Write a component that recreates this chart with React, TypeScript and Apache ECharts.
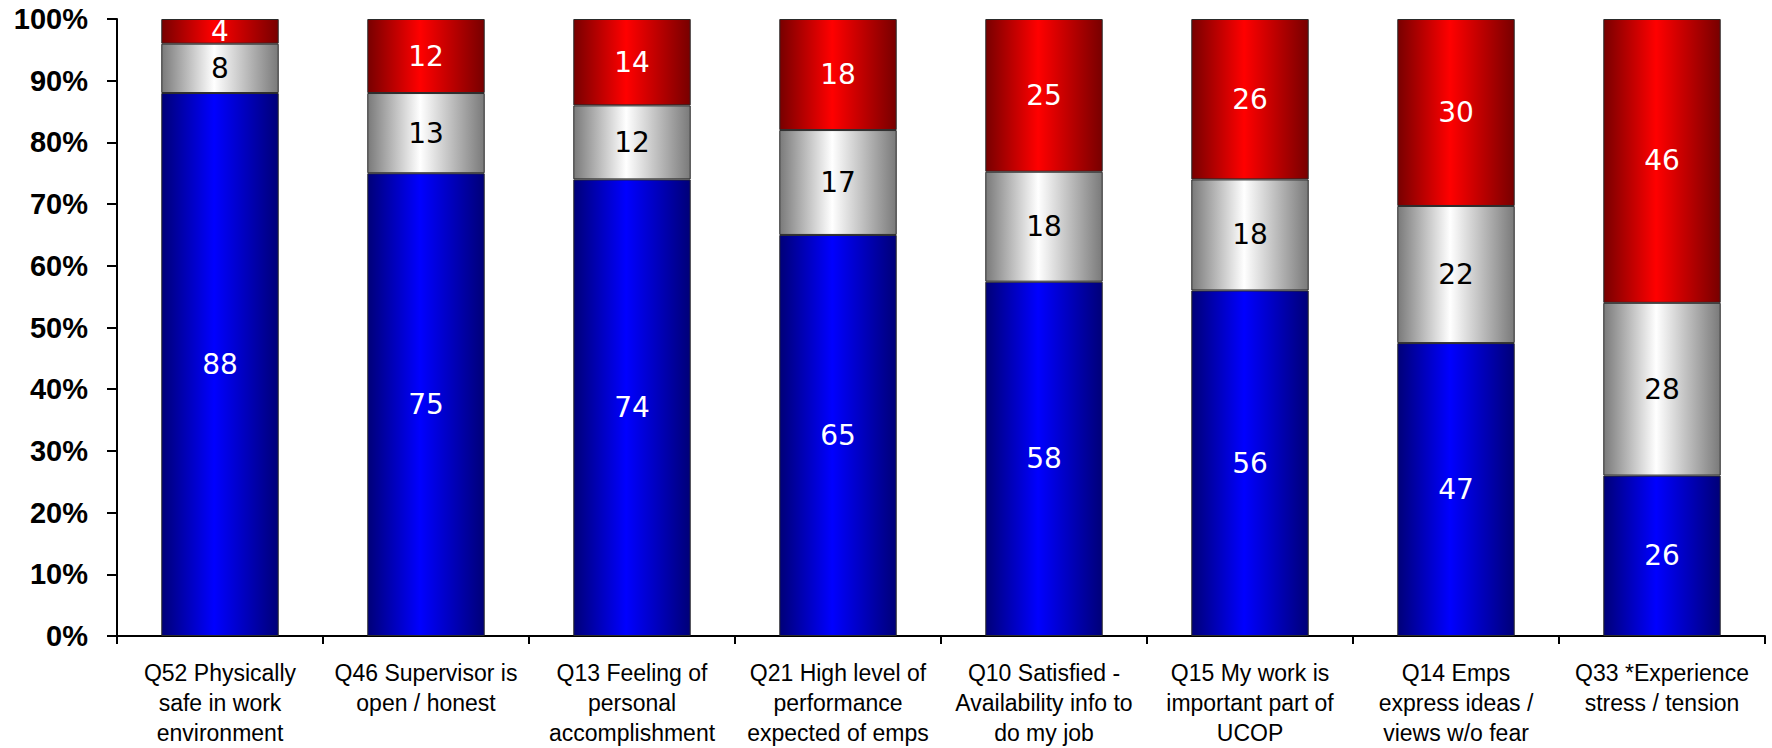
import React, { useEffect, useRef } from "react";
import * as echarts from "echarts";

// Survey items (category axis), broken over lines as printed under each bar
const categories = [
  "Q52 Physically\nsafe in work\nenvironment",
  "Q46 Supervisor is\nopen / honest",
  "Q13 Feeling of\npersonal\naccomplishment",
  "Q21 High level of\nperformance\nexpected of emps",
  "Q10 Satisfied -\nAvailability info to\ndo my job",
  "Q15 My work is\nimportant part of\nUCOP",
  "Q14 Emps\nexpress ideas /\nviews w/o fear",
  "Q33 *Experience\nstress / tension",
];

// Response shares per item (percent, as reported)
const favorable = [88, 75, 74, 65, 58, 56, 47, 26];
const neutral = [8, 13, 12, 17, 18, 18, 22, 28];
const unfavorable = [4, 12, 14, 18, 25, 26, 30, 46];

const yTicks = { min: 0, max: 100, interval: 10 };

// 100% stacking: each column is scaled so its parts fill the full height
const totals = favorable.map((v, i) => v + neutral[i] + unfavorable[i]);
const toShare = (arr: number[]) =>
  arr.map((v, i) => ({ value: (v / totals[i]) * 100, raw: v }));

const barGradient = (edge: string, center: string) =>
  new echarts.graphic.LinearGradient(0, 0, 1, 0, [
    { offset: 0, color: edge },
    { offset: 0.45, color: center },
    { offset: 1, color: edge },
  ]);

export default function App() {
  const ref = useRef<HTMLDivElement>(null);

  useEffect(() => {
    if (!ref.current) return;
    const chart = echarts.init(ref.current, undefined, { renderer: "svg" });

    const makeSeries = (
      name: string,
      values: number[],
      edge: string,
      center: string,
      labelColor: string
    ) => ({
      name,
      type: "bar",
      stack: "total",
      barWidth: "57%",
      data: toShare(values),
      itemStyle: {
        color: barGradient(edge, center),
        borderColor: "#2a2a2a",
        borderWidth: 1,
      },
      label: {
        show: true,
        position: "inside",
        color: labelColor,
        fontFamily: "DejaVu Sans",
        fontSize: 28,
        formatter: (p: any) => String(p.data.raw),
      },
    });

    chart.setOption({
      animation: false,
      backgroundColor: "#ffffff",
      grid: { left: 117, right: 7, top: 19, bottom: 107, containLabel: false },
      xAxis: {
        type: "category",
        data: categories,
        axisLine: { show: true, lineStyle: { color: "#000", width: 2 } },
        axisTick: { show: true, length: 8, lineStyle: { color: "#000", width: 2 } },
        axisLabel: {
          interval: 0,
          margin: 22,
          color: "#000",
          fontFamily: "Liberation Sans, Arial, sans-serif",
          fontSize: 23,
          lineHeight: 30,
          align: "center",
        },
      },
      yAxis: {
        type: "value",
        min: yTicks.min,
        max: yTicks.max,
        interval: yTicks.interval,
        splitLine: { show: false },
        axisLine: { show: true, lineStyle: { color: "#000", width: 2 } },
        axisTick: { show: true, length: 10, lineStyle: { color: "#000", width: 2 } },
        axisLabel: {
          margin: 29,
          color: "#000",
          fontFamily: "Liberation Sans, Arial, sans-serif",
          fontWeight: "bold",
          fontSize: 29,
          formatter: "{value}%",
        },
      },
      series: [
        makeSeries("Favorable", favorable, "#000078", "#0000ff", "#ffffff"),
        makeSeries("Neutral", neutral, "#7a7a7a", "#ffffff", "#000000"),
        makeSeries("Unfavorable", unfavorable, "#780000", "#ff0000", "#ffffff"),
      ],
    });

    return () => chart.dispose();
  }, []);

  return (
    <div
      ref={ref}
      style={{ position: "fixed", left: 0, top: 0, width: 1772, height: 748 }}
    />
  );
}
